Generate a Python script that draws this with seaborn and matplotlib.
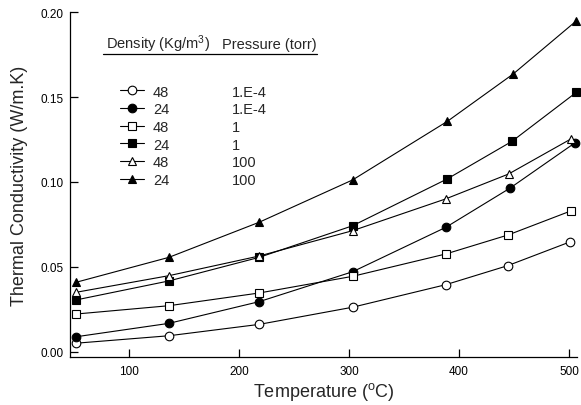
import matplotlib
matplotlib.use("Agg")
import matplotlib.pyplot as plt
import seaborn as sns
import pandas as pd

# ---------------- data ----------------
density = ["48", "24", "48", "24", "48", "24"]
pressure = ["1.E-4", "1.E-4", "1", "1", "100", "100"]

t_48_1em4 = [51.9, 136.3, 218.4, 303.2, 388.0, 444.2, 501.2]
k_48_1em4 = [0.0050, 0.0094, 0.0161, 0.0262, 0.0395, 0.0507, 0.0648]

t_24_1em4 = [51.9, 136.3, 218.4, 303.2, 388.0, 446.1, 505.2]
k_24_1em4 = [0.0088, 0.0167, 0.0295, 0.0471, 0.0733, 0.0963, 0.1230]

t_48_1 = [51.9, 136.3, 218.4, 303.2, 388.0, 444.6, 502.2]
k_48_1 = [0.0222, 0.0271, 0.0346, 0.0444, 0.0576, 0.0688, 0.0831]

t_24_1 = [51.9, 136.3, 218.4, 303.2, 389.2, 448.2, 506.7]
k_24_1 = [0.0305, 0.0417, 0.0556, 0.0742, 0.1018, 0.1240, 0.1529]

t_48_100 = [51.9, 136.3, 218.4, 303.2, 387.7, 445.0, 501.5]
k_48_100 = [0.0350, 0.0448, 0.0564, 0.0713, 0.0900, 0.1047, 0.1253]

t_24_100 = [51.9, 136.3, 218.4, 303.2, 389.5, 449.1, 506.7]
k_24_100 = [0.0409, 0.0556, 0.0763, 0.1012, 0.1358, 0.1636, 0.1950]

x_ticks = [100, 200, 300, 400, 500]
y_ticks = [0.00, 0.05, 0.10, 0.15, 0.20]

series_t = [t_48_1em4, t_24_1em4, t_48_1, t_24_1, t_48_100, t_24_100]
series_k = [k_48_1em4, k_24_1em4, k_48_1, k_24_1, k_48_100, k_24_100]

# ---------------- style ----------------
sns.set_theme(style="white")
plt.rcParams["font.family"] = ["Liberation Sans", "DejaVu Sans"]
plt.rcParams["mathtext.fontset"] = "custom"
plt.rcParams["mathtext.rm"] = "Liberation Sans"
plt.rcParams["mathtext.it"] = "Liberation Sans:italic"

markers = ["o", "o", "s", "s", "^", "^"]
fills = ["white", "black", "white", "black", "white", "black"]

W, H = 581, 406
fig = plt.figure(figsize=(W / 100, H / 100), dpi=100)
ax = fig.add_axes([70 / W, (H - 358.3) / H, 507 / W, 345 / H])

handles = []
for i in range(6):
    df = pd.DataFrame({"T": series_t[i], "k": series_k[i]})
    n_before = len(ax.lines)
    sns.lineplot(data=df, x="T", y="k", ax=ax, estimator=None, sort=False,
                 color="black", linewidth=0.8, marker=markers[i],
                 markersize=6.2 if markers[i] != "s" else 5.8,
                 markerfacecolor=fills[i], markeredgecolor="black",
                 markeredgewidth=0.8, clip_on=False, legend=False)
    handles.append(ax.lines[n_before])

ax.set_xlim(46.4, 507.2)
ax.set_ylim(-0.0033, 0.20)
ax.set_xticks(x_ticks)
ax.set_yticks(y_ticks)
ax.set_xticklabels([str(v) for v in x_ticks])
ax.set_yticklabels([f"{v:.2f}" for v in y_ticks])

for s in ["top", "right"]:
    ax.spines[s].set_visible(False)
for s in ["left", "bottom"]:
    ax.spines[s].set_color("black")
    ax.spines[s].set_linewidth(0.9)

ax.tick_params(axis="both", which="major", direction="in", length=5.8,
               width=0.9, colors="black", labelsize=8.5,
               bottom=True, left=True, top=False, right=False)
ax.tick_params(axis="y", pad=4.6)
ax.tick_params(axis="x", pad=5.5)

ax.set_xlabel(r"Temperature ($^\mathrm{o}$C)", fontsize=13, labelpad=2)
ax.set_ylabel("Thermal Conductivity (W/m.K)", fontsize=13, labelpad=9)

# legend (markers + density column)
leg = ax.legend(handles, density, loc="upper left",
                bbox_to_anchor=(0.0986, 0.7905), frameon=False,
                fontsize=10.5, handlelength=1.65, handletextpad=0.6,
                labelspacing=0.25, borderpad=0, borderaxespad=0)

# header
ax.text(0.071, 0.8965, r"Density (Kg/m$^3$)", transform=ax.transAxes,
        fontsize=10.5, va="baseline", ha="left")
ax.text(0.299, 0.8965, "Pressure (torr)", transform=ax.transAxes,
        fontsize=10.5, va="baseline", ha="left")
ax.plot([0.065, 0.487], [0.879, 0.879], transform=ax.transAxes,
        color="black", linewidth=0.9, clip_on=False)

# pressure column aligned with the legend rows
fig.canvas.draw()
inv = ax.transAxes.inverted()
for txt, p in zip(leg.get_texts(), pressure):
    bb = txt.get_window_extent()
    yc = inv.transform((0, (bb.y0 + bb.y1) / 2))[1]
    ax.text(0.319, yc, p, transform=ax.transAxes, fontsize=10.5,
            va="center", ha="left")

fig.savefig("out.png", dpi=100)
